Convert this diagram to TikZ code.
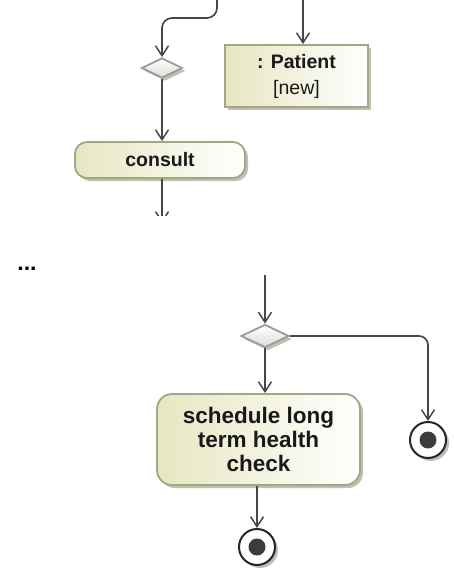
\documentclass[tikz,border=0pt]{standalone}
\usepackage{fontspec}
\setmainfont{Liberation Sans}
\usetikzlibrary{arrows.meta,shapes.geometric,shadows,positioning}

\definecolor{flowline}{HTML}{474747}
\definecolor{boxborder}{HTML}{A6A67E}
\definecolor{boxfill}{HTML}{E7E6C2}
\definecolor{decborder}{HTML}{9C9C92}
\definecolor{decfill}{HTML}{DCDCDC}
\definecolor{dotfill}{HTML}{3C3C3C}
\definecolor{shadowgray}{HTML}{B8B8B0}

\tikzset{
  flow/.style={draw=flowline, line width=1.7pt,
    -{Straight Barb[length=10pt,width=13pt,line width=1.5pt]}},
  boxshadow/.style={drop shadow={shadow xshift=3pt, shadow yshift=-3pt,
    fill=shadowgray, opacity=0.9}},
  objectbox/.style={rectangle, draw=boxborder, line width=1.8pt,
    left color=boxfill, right color=white, boxshadow,
    inner sep=0pt, align=center, text=black!90},
  actionbox/.style={rectangle, rounded corners=13pt, draw=boxborder,
    line width=1.8pt, left color=boxfill, right color=white, boxshadow,
    inner sep=0pt, align=center, text=black!90},
  decisionnode/.style={diamond, draw=decborder, line width=1.8pt,
    top color=white, bottom color=decfill, boxshadow,
    inner sep=0pt, aspect=2},
  finalnode/.style={circle, draw=black!85, line width=2pt, fill=white,
    minimum size=36pt, inner sep=0pt, boxshadow,
    path picture={\fill[dotfill] (path picture bounding box.center) circle (8.5pt);}},
  topfont/.style={font=\fontsize{19.5}{22}\selectfont},
  bottomfont/.style={font=\fontsize{22.5}{24}\selectfont\bfseries},
}

\begin{document}
\begin{tikzpicture}[x=1pt, y=-1pt]
  \useasboundingbox (0,0) rectangle (453,572);

  % ---------- upper fragment ----------
  \coordinate (inA) at (217,-2);
  \coordinate (inB) at (303,-2);

  \node[decisionnode, minimum width=41pt, minimum height=20pt] (merge) at (162,68) {};
  \node[objectbox, topfont, minimum width=143pt, minimum height=62pt] (patient) at (296.5,76)
    {\textbf{: Patient}\\[4pt][new]};
  \node[actionbox, topfont, rounded corners=12pt, minimum width=170pt, minimum height=36pt]
    (consult) at (160,160) {\textbf{consult}};

  \draw[flow, rounded corners=10pt] (inA) -- (217,18) -- (162,18) -- (merge.north);
  \draw[flow] (inB) -- (inB |- patient.north);
  \draw[flow] (merge.south) -- (merge.south |- consult.north);

  \begin{scope}
    \clip (100,170) rectangle (230,215);
    \coordinate (cut) at (162,223);
    \draw[flow] (consult.south -| merge.south) -- (cut);
  \end{scope}

  % ---------- lower fragment ----------
  \node[font=\fontsize{23}{25}\selectfont\bfseries] (dots) at (27,269) {...};

  \coordinate (inC) at (265,275);
  \node[decisionnode, minimum width=48pt, minimum height=23pt] (choice) at (265,336) {};
  \node[actionbox, bottomfont, rounded corners=15pt, minimum width=203pt, minimum height=91pt]
    (check) at (258.5,439.5) {schedule long\\term health\\check};
  \node[finalnode] (endA) at (428,440) {};
  \node[finalnode] (endB) at (257,547) {};

  \draw[flow] (inC) -- (choice.north);
  \draw[flow] (choice.south) -- (choice.south |- check.north);
  \draw[flow, rounded corners=9pt] (choice.east) -- (endA.north |- choice.east) -- (endA.north);
  \draw[flow] (check.south -| endB.north) -- (endB.north);
\end{tikzpicture}
\end{document}
